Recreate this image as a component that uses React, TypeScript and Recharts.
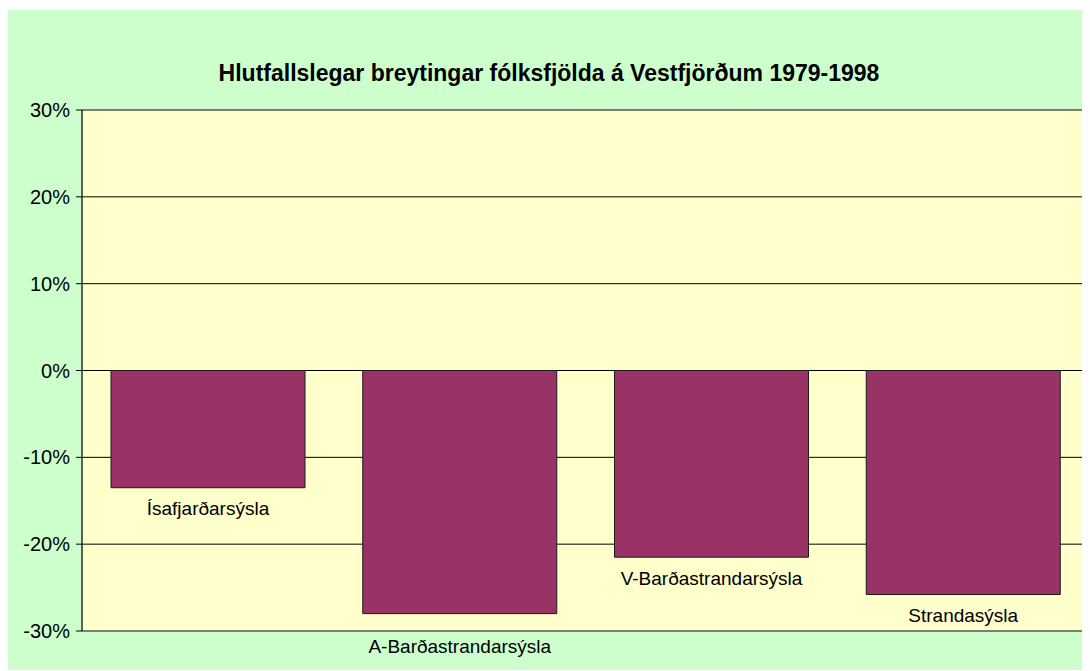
import React from "react";
import { BarChart, Bar, XAxis, YAxis, CartesianGrid, ReferenceArea, LabelList } from "recharts";

const categories = ["Ísafjarðarsýsla", "A-Barðastrandarsýsla", "V-Barðastrandarsýsla", "Strandasýsla"];
const changes = [-13.5, -28.0, -21.5, -25.8];
const yTicks = [-30, -20, -10, 0, 10, 20, 30];
const title = "Hlutfallslegar breytingar fólksfjölda á Vestfjörðum 1979-1998";

const data = categories.map((name, i) => ({ name, value: changes[i] }));

const FONT = "'Liberation Sans', Arial, Helvetica, sans-serif";

const CategoryLabel = (props: any) => {
  const { x, y, width, height, index } = props;
  const bottom = Math.max(Number(y), Number(y) + Number(height));
  const drop = index === 1 ? 33 : 21;
  return (
    <text
      x={Number(x) + Number(width) / 2}
      y={bottom + drop}
      textAnchor="middle"
      dominantBaseline="central"
      fontSize={19}
      fontFamily={FONT}
      fill="#000"
    >
      {categories[index]}
    </text>
  );
};

export default function App() {
  return (
    <div
      style={{
        position: "relative",
        width: 1082,
        height: 660,
        marginTop: 2,
        background: "#CCFFCC",
        fontFamily: FONT,
      }}
    >
      <div
        style={{
          position: "absolute",
          left: 0,
          top: 50,
          width: 1082,
          textAlign: "center",
          fontWeight: "bold",
          fontSize: 23,
          lineHeight: "26px",
          color: "#000",
          zIndex: 2,
        }}
      >
        {title}
      </div>
      <BarChart
        width={1082}
        height={660}
        data={data}
        margin={{ top: 100, right: 1, bottom: 39, left: 0 }}
      >
        <CartesianGrid vertical={false} stroke="#000" fill="#FFFFCC" fillOpacity={1} />
        <XAxis dataKey="name" hide />
        <YAxis
          domain={[-30, 30]}
          ticks={yTicks}
          interval={0}
          width={74}
          tickFormatter={(v: number) => `${v}%`}
          axisLine={{ stroke: "#000" }}
          tickLine={{ stroke: "#000" }}
          tickSize={6}
          tickMargin={6}
          tick={{ fill: "#000", fontSize: 20, fontFamily: FONT }}
        />
        <Bar dataKey="value" fill="#993366" stroke="#1a1a1a" strokeWidth={1} barSize={194} isAnimationActive={false}>
          <LabelList dataKey="value" content={<CategoryLabel />} />
        </Bar>
        <ReferenceArea y1={-30} y2={30} fill="none" stroke="#808080" strokeWidth={1} ifOverflow="visible" />
      </BarChart>
    </div>
  );
}
